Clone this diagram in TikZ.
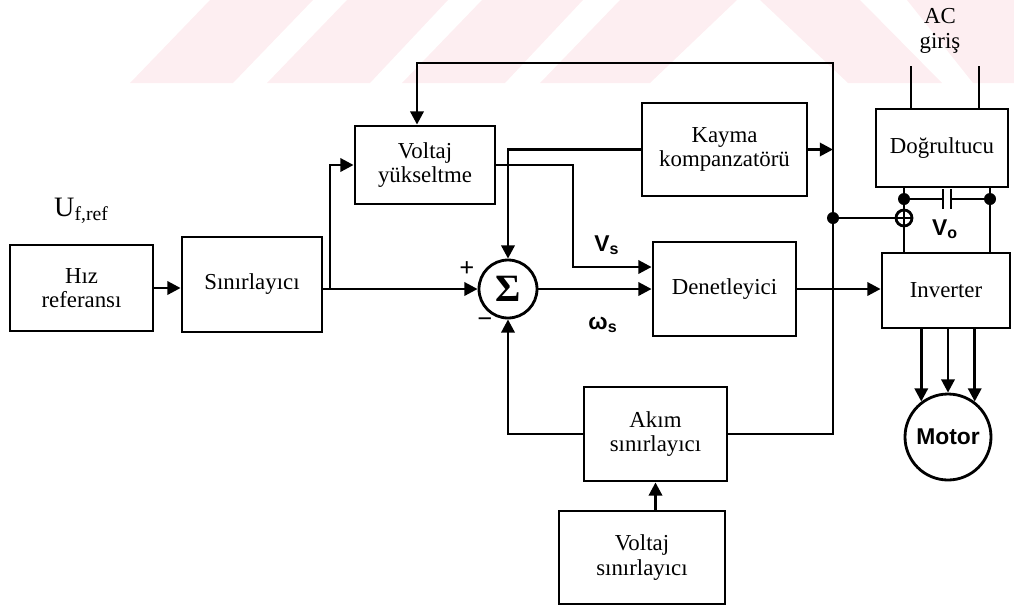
\documentclass[tikz,border=0pt]{standalone}
\usepackage{fontspec}
\setmainfont{Liberation Serif}
\setsansfont{Liberation Sans}
\usepackage{tikz}
\usetikzlibrary{arrows.meta,positioning}
\definecolor{pinkbg}{RGB}{253,238,241}

\begin{document}
\begin{tikzpicture}[>={Triangle[length=7.5pt,width=7.5pt]},line width=1.6pt,
                    x=0.2mm,y=-0.2mm,font=\fontsize{13}{14}\selectfont]
  \tikzstyle{block}=[draw,rectangle,align=center,inner sep=2pt]
  \tikzstyle{lbl}=[font=\fontsize{13}{14}\selectfont\sffamily\bfseries]

  \useasboundingbox (0,0) rectangle (1014,608);
  % pale watermark at the top
  \fill[pinkbg] (130,83) -- (233,83) -- (313,0) -- (210,0) -- cycle;
  \fill[pinkbg] (267,83) -- (370,83) -- (448,0) -- (347,0) -- cycle;
  \fill[pinkbg] (402,83) -- (505,83) -- (583,0) -- (482,0) -- cycle;
  \fill[pinkbg] (540,83) -- (650,83) -- (737,0) -- (620,0) -- cycle;
  \fill[pinkbg] (760,0) -- (860,0) -- (942,83) -- (848,83) -- cycle;
  \fill[pinkbg] (907,0) -- (1014,0) -- (1014,83) -- (973,83) -- cycle;

  \node[block,minimum width=28.6mm,minimum height=17.2mm] (HR) at (81.5,288) {Hız\\referansı};
  \node (UF) [above=2.5mm of HR] {\fontsize{16}{16}\selectfont U\textsubscript{f,ref}};
  \node[block,minimum width=28mm,minimum height=19mm]     (SL) at (252,284.5) {Sınırlayıcı};
  \node[block,minimum width=28mm,minimum height=15.6mm]   (VY) at (425,165) {Voltaj\\yükseltme};
  \node[block,minimum width=33mm,minimum height=18.6mm]   (KK) at (724.5,149.5) {Kayma\\kompanzatörü};
  \node[block,minimum width=28.6mm,minimum height=18.8mm] (DN) at (724.5,289) {Denetleyici};
  \node[draw,circle,minimum size=11.6mm,inner sep=0pt]    (SUM) at (508,289) {\fontsize{22}{22}\selectfont\bfseries Σ};
  \node[block,minimum width=28.6mm,minimum height=18.8mm] (AS) at (655.5,434) {Akım\\sınırlayıcı};
  \node[block,minimum width=33.2mm,minimum height=18.6mm] (VS) at (642,557.5) {Voltaj\\sınırlayıcı};
  \node[block,minimum width=26.4mm,minimum height=15.6mm] (DG) at (942,148) {Doğrultucu};
  \node[block,minimum width=25.6mm,minimum height=15mm]   (INV) at (946,290.5) {Inverter};
  \node[draw,circle,minimum size=17.2mm,inner sep=0pt,lbl] (M) at (948,437) {Motor};
  \node[draw,circle,minimum size=3.2mm,inner sep=0pt]     (PL) at (904,218) {};
  \node[align=center,inner sep=0pt] (AC) at (940,31) {AC\\giriş};

  \node[font=\fontsize{15}{15}\selectfont\bfseries] (P) at (467,269) {+};
  \node[font=\fontsize{15}{15}\selectfont\bfseries] (N) at (485,323) {−};
  \node[lbl] (VSL) at (607,245) {V\textsubscript{s}};
  \node[lbl] (WSL) at (603,325) {ω\textsubscript{s}};
  \node[lbl] (VO) at (945,229) {V\textsubscript{o}};

  \coordinate (J1) at (330,289);
  \coordinate (BT) at (833,63);
  \coordinate (T1) at (417,63);
  \coordinate (J2) at (833,218);
  \coordinate (D1) at (904,199);
  \coordinate (D2) at (990,199);
  \coordinate (C1) at (943,199);
  \coordinate (C2) at (951,199);
  \coordinate (AC1) at (911,66);
  \coordinate (AC2) at (979,66);

  \draw[->] (HR.east) -- (HR.east -| SL.west);
  \draw[->] (SL.east |- J1) -- (SUM.west);
  \draw[->] (J1) |- (VY.west);
  \draw[->] (AS.east) -| (BT) -- (T1) -- (T1 |- VY.north);
  \draw[->] (KK.east) -- (KK.east -| BT);
  \draw[->] (KK.west) -| (SUM.north);
  \draw[->] (VY.east) -| (573,267) -- (DN.west |- 573,267);
  \draw[->] (SUM.east) -- (DN.west);
  \draw[->] (DN.east) -- (DN.east -| INV.west);
  \draw[->] (AS.west) -| (SUM.south);
  \draw[->] (VS.north -| AS.south) -- (AS.south);

  % DC link
  \draw (J2) -- (PL.west);
  \draw (PL.north) -- (PL.south) (PL.west) -- (PL.east);
  \draw (DG.south -| D1) -- (D1) -- (PL.north);
  \draw (PL.south) -- (PL.south |- INV.north);
  \draw (DG.south -| D2) -- (D2) -- (D2 |- INV.north);
  \draw (D1) -- (C1) (C2) -- (D2);
  \draw (C1 |- 0,189) -- (C1 |- 0,209) (C2 |- 0,189) -- (C2 |- 0,209);
  \fill (J2) circle (6);
  \fill (D1) circle (6);
  \fill (D2) circle (6);
  \draw (AC1) -- (AC1 |- DG.north);
  \draw (AC2) -- (AC2 |- DG.north);

  \draw[->] (INV.south -| M.127) -- (M.127);
  \draw[->] (INV.south -| M.90) -- (M.90);
  \draw[->] (INV.south -| M.53) -- (M.53);
\end{tikzpicture}
\end{document}
